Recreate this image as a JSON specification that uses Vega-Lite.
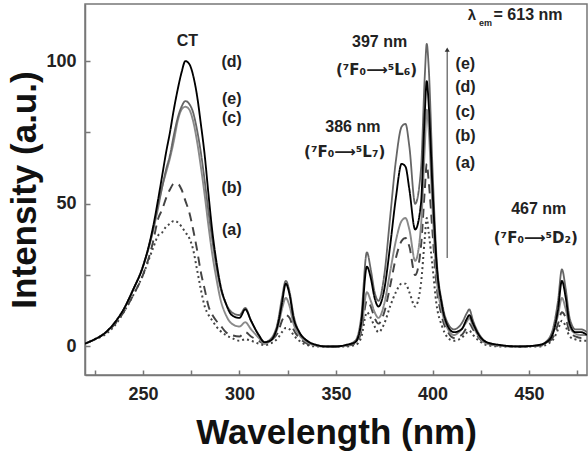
{
  "$schema": "https://vega.github.io/schema/vega-lite/v6.json",
  "width": 502,
  "height": 371,
  "autosize": {"type": "none"},
  "padding": {"left": 85, "top": 4, "right": 1, "bottom": 82},
  "background": "white",
  "config": {
    "view": {"stroke": "#777", "strokeWidth": 1.5},
    "font": "Liberation Sans",
    "axis": {
      "grid": false,
      "domainColor": "#777",
      "domainWidth": 1.5,
      "tickColor": "#777",
      "tickWidth": 1.5,
      "tickSize": -5,
      "labelFont": "Liberation Sans",
      "labelFontSize": 18,
      "labelFontWeight": "bold",
      "labelColor": "#222",
      "titleFont": "Liberation Sans",
      "titleFontSize": 35,
      "titleFontWeight": "bold",
      "titleColor": "#111"
    }
  },
  "datasets": {
    "spectra": [
      {"x": 220, "a": 1, "b": 1, "c": 1, "d": 1, "e": 1},
      {"x": 225, "a": 2.5, "b": 2.5, "c": 2.5, "d": 2.5, "e": 2.5},
      {"x": 230, "a": 4, "b": 4.5, "c": 4.5, "d": 4.5, "e": 4.5},
      {"x": 235, "a": 7, "b": 7.5, "c": 8, "d": 8, "e": 8},
      {"x": 240, "a": 12, "b": 12, "c": 13, "d": 13, "e": 13},
      {"x": 245, "a": 18, "b": 18, "c": 20, "d": 20, "e": 20},
      {"x": 250, "a": 25, "b": 25, "c": 28, "d": 28, "e": 28},
      {"x": 255, "a": 34, "b": 36, "c": 40, "d": 41, "e": 40},
      {"x": 258, "a": 39, "b": 45, "c": 49, "d": 52, "e": 50},
      {"x": 260, "a": 40, "b": 48, "c": 56, "d": 60, "e": 56},
      {"x": 262, "a": 42, "b": 52, "c": 61, "d": 68, "e": 62},
      {"x": 264, "a": 43, "b": 55, "c": 66, "d": 75, "e": 67},
      {"x": 266, "a": 44, "b": 57, "c": 72, "d": 83, "e": 74},
      {"x": 268, "a": 43.5, "b": 57, "c": 79, "d": 90, "e": 80},
      {"x": 270, "a": 42, "b": 55, "c": 83, "d": 96, "e": 84},
      {"x": 272, "a": 40, "b": 51, "c": 84, "d": 100, "e": 86},
      {"x": 274, "a": 38, "b": 47, "c": 83, "d": 99, "e": 85},
      {"x": 276, "a": 34, "b": 41, "c": 79, "d": 95, "e": 82},
      {"x": 278, "a": 27, "b": 34, "c": 72, "d": 88, "e": 76},
      {"x": 280, "a": 20, "b": 26, "c": 63, "d": 78, "e": 68},
      {"x": 282, "a": 14, "b": 20, "c": 53, "d": 67, "e": 58},
      {"x": 284, "a": 11, "b": 14, "c": 42, "d": 53, "e": 47},
      {"x": 286, "a": 9, "b": 11, "c": 32, "d": 40, "e": 37},
      {"x": 288, "a": 7, "b": 9, "c": 24, "d": 30, "e": 28},
      {"x": 290, "a": 5.5, "b": 7.5, "c": 17, "d": 22, "e": 21},
      {"x": 293, "a": 4, "b": 5, "c": 11, "d": 15, "e": 15},
      {"x": 296, "a": 3, "b": 4, "c": 8, "d": 11, "e": 12},
      {"x": 300, "a": 2, "b": 3.5, "c": 7, "d": 10, "e": 11},
      {"x": 303, "a": 2.5, "b": 5, "c": 8.5, "d": 13, "e": 13.5},
      {"x": 306, "a": 2, "b": 3.5, "c": 6, "d": 9, "e": 9},
      {"x": 310, "a": 1, "b": 2, "c": 3, "d": 4, "e": 4},
      {"x": 313, "a": 0.5, "b": 1, "c": 1, "d": 1.5, "e": 1.5},
      {"x": 316, "a": 1, "b": 2, "c": 2, "d": 2, "e": 2.5},
      {"x": 320, "a": 3, "b": 5, "c": 7, "d": 8, "e": 9},
      {"x": 322, "a": 5, "b": 9, "c": 13, "d": 15, "e": 17},
      {"x": 324, "a": 6.5, "b": 11, "c": 17, "d": 22, "e": 23},
      {"x": 326, "a": 6, "b": 10, "c": 14, "d": 18, "e": 19},
      {"x": 328, "a": 4, "b": 6, "c": 8, "d": 10, "e": 11},
      {"x": 331, "a": 2, "b": 3, "c": 4, "d": 5, "e": 5},
      {"x": 335, "a": 0.5, "b": 1, "c": 1.5, "d": 2, "e": 2},
      {"x": 340, "a": 0, "b": 0.2, "c": 0.3, "d": 0.5, "e": 0.5},
      {"x": 345, "a": 0, "b": 0, "c": 0, "d": 0, "e": 0},
      {"x": 350, "a": 0, "b": 0, "c": 0, "d": 0, "e": 0},
      {"x": 355, "a": 0, "b": 0.2, "c": 0.3, "d": 0.5, "e": 0.5},
      {"x": 360, "a": 0.5, "b": 1, "c": 1.5, "d": 1.5, "e": 2},
      {"x": 363, "a": 3, "b": 5, "c": 6, "d": 8, "e": 10},
      {"x": 366, "a": 12, "b": 16, "c": 19, "d": 28, "e": 33},
      {"x": 368, "a": 10, "b": 14, "c": 16, "d": 24, "e": 27},
      {"x": 370, "a": 7, "b": 10, "c": 12, "d": 17, "e": 19},
      {"x": 372, "a": 5, "b": 8, "c": 10, "d": 14, "e": 16},
      {"x": 375, "a": 8, "b": 12, "c": 15, "d": 20, "e": 25},
      {"x": 378, "a": 14, "b": 21, "c": 26, "d": 35, "e": 45},
      {"x": 381, "a": 19, "b": 31, "c": 37, "d": 52, "e": 65},
      {"x": 384, "a": 22, "b": 37, "c": 44, "d": 64, "e": 77},
      {"x": 386, "a": 22, "b": 38, "c": 45, "d": 63, "e": 78},
      {"x": 388, "a": 19, "b": 35, "c": 41, "d": 55, "e": 70},
      {"x": 391, "a": 14, "b": 25, "c": 30, "d": 41, "e": 50},
      {"x": 394, "a": 22, "b": 35, "c": 42, "d": 50, "e": 62},
      {"x": 396, "a": 38, "b": 55, "c": 70, "d": 82, "e": 95},
      {"x": 397, "a": 45, "b": 64, "c": 83, "d": 93, "e": 106},
      {"x": 398, "a": 40, "b": 58, "c": 76, "d": 85, "e": 98},
      {"x": 400, "a": 28, "b": 40, "c": 48, "d": 55, "e": 62},
      {"x": 402, "a": 15, "b": 22, "c": 25, "d": 30, "e": 32},
      {"x": 405, "a": 7, "b": 10, "c": 12, "d": 14, "e": 15},
      {"x": 408, "a": 3, "b": 5, "c": 6, "d": 7, "e": 8},
      {"x": 411, "a": 2, "b": 3, "c": 4, "d": 5, "e": 6},
      {"x": 415, "a": 3, "b": 4, "c": 6, "d": 6, "e": 8},
      {"x": 418, "a": 5, "b": 7, "c": 9, "d": 10, "e": 12},
      {"x": 419, "a": 5.5, "b": 8, "c": 10, "d": 11, "e": 13},
      {"x": 421, "a": 4, "b": 6, "c": 7, "d": 8, "e": 9},
      {"x": 424, "a": 2, "b": 3, "c": 3.5, "d": 4, "e": 4.5},
      {"x": 428, "a": 0.5, "b": 1, "c": 1, "d": 1.5, "e": 1.5},
      {"x": 435, "a": 0, "b": 0.2, "c": 0.3, "d": 0.5, "e": 0.5},
      {"x": 445, "a": 0, "b": 0, "c": 0, "d": 0, "e": 0},
      {"x": 455, "a": 0, "b": 0.2, "c": 0.3, "d": 0.5, "e": 0.5},
      {"x": 460, "a": 1, "b": 1.5, "c": 2, "d": 2, "e": 2.5},
      {"x": 463, "a": 3, "b": 4, "c": 6, "d": 6, "e": 8},
      {"x": 465, "a": 6, "b": 8, "c": 11, "d": 13, "e": 16},
      {"x": 467, "a": 9, "b": 12, "c": 17, "d": 23, "e": 27},
      {"x": 469, "a": 7, "b": 10, "c": 13, "d": 17, "e": 20},
      {"x": 471, "a": 3.5, "b": 5, "c": 7, "d": 8, "e": 10},
      {"x": 474, "a": 2.5, "b": 3.5, "c": 4.5, "d": 5, "e": 6},
      {"x": 477, "a": 2, "b": 3, "c": 4, "d": 5, "e": 6},
      {"x": 480, "a": 2, "b": 3, "c": 4, "d": 4, "e": 5}
    ],
    "labels": [
      {"x": 273, "y": 107, "t": "CT"},
      {"x": 296, "y": 99.6, "t": "(d)"},
      {"x": 296, "y": 86.6, "t": "(e)"},
      {"x": 296, "y": 80, "t": "(c)"},
      {"x": 296, "y": 55.6, "t": "(b)"},
      {"x": 296, "y": 40.8, "t": "(a)"},
      {"x": 417, "y": 99, "t": "(e)"},
      {"x": 417, "y": 90.8, "t": "(d)"},
      {"x": 417, "y": 82, "t": "(c)"},
      {"x": 417, "y": 73.6, "t": "(b)"},
      {"x": 417, "y": 64.4, "t": "(a)"},
      {"x": 372.6, "y": 106.7, "t": "397 nm"},
      {"x": 358.7, "y": 77, "t": "386 nm"},
      {"x": 455, "y": 48, "t": "467 nm"}
    ],
    "transitions": [
      {"x": 371, "y": 97, "t": "(⁷F₀⟶⁵L₆)"},
      {"x": 354.5, "y": 68, "t": "(⁷F₀⟶⁵L₇)"},
      {"x": 453.5, "y": 38, "t": "(⁷F₀⟶⁵D₂)"}
    ],
    "lambda": [
      {"x": 422.6, "y": 116, "t": "λ"}
    ],
    "lambdaSub": [
      {"x": 427.4, "y": 113.3, "t": "em"}
    ],
    "lambdaRest": [
      {"x": 431.6, "y": 116, "t": "= 613 nm"}
    ],
    "arrow": [
      {"x": 407.6, "y": 31, "y2": 104}
    ]
  },
  "layer": [
    {
      "data": {"name": "spectra"},
      "transform": [{"fold": ["a", "b", "c", "e", "d"], "as": ["curve", "value"]}],
      "mark": {"type": "line", "interpolate": "monotone", "clip": true},
      "encoding": {
        "x": {
          "field": "x", "type": "quantitative",
          "scale": {"domain": [220, 480], "nice": false, "zero": false},
          "axis": {
            "values": [225, 250, 275, 300, 325, 350, 375, 400, 425, 450, 475],
            "labelExpr": "datum.value % 50 == 0 ? datum.label : ''",
            "title": "Wavelength (nm)",
            "labelPadding": 15,
            "titlePadding": 12
          }
        },
        "y": {
          "field": "value", "type": "quantitative",
          "scale": {"domain": [-10, 120], "nice": false, "zero": false},
          "axis": {
            "values": [0, 25, 50, 75, 100],
            "labelExpr": "datum.value % 50 == 0 ? datum.label : ''",
            "title": "Intensity (a.u.)",
            "labelPadding": 14,
            "titlePadding": 3
          }
        },
        "color": {
          "field": "curve", "type": "nominal",
          "scale": {"domain": ["a", "b", "c", "d", "e"], "range": ["#444", "#444", "#8a8a8a", "#000000", "#666666"]},
          "legend": null
        },
        "strokeDash": {
          "field": "curve", "type": "nominal",
          "scale": {"domain": ["a", "b", "c", "d", "e"], "range": [[2, 3], [9, 6], [1, 0], [1, 0], [1, 0]]},
          "legend": null
        },
        "strokeWidth": {
          "field": "curve", "type": "nominal",
          "scale": {"domain": ["a", "b", "c", "d", "e"], "range": [2, 1.8, 2, 2, 2]},
          "legend": null
        },
        "order": {"field": "curve"}
      }
    },
    {
      "data": {"name": "arrow"},
      "mark": {"type": "rule", "color": "#666", "strokeWidth": 1.3},
      "encoding": {
        "x": {"field": "x", "type": "quantitative"},
        "y": {"field": "y", "type": "quantitative"},
        "y2": {"field": "y2"}
      }
    },
    {
      "data": {"name": "arrow"},
      "mark": {"type": "point", "shape": "triangle-up", "filled": true, "color": "#333", "size": 25, "opacity": 1},
      "encoding": {
        "x": {"field": "x", "type": "quantitative"},
        "y": {"field": "y2", "type": "quantitative"}
      }
    },
    {
      "data": {"name": "labels"},
      "mark": {"type": "text", "font": "Liberation Sans", "fontSize": 16, "fontWeight": "bold", "color": "#222", "align": "center", "baseline": "middle"},
      "encoding": {
        "x": {"field": "x", "type": "quantitative"},
        "y": {"field": "y", "type": "quantitative"},
        "text": {"field": "t"}
      }
    },
    {
      "data": {"name": "transitions"},
      "mark": {"type": "text", "font": "DejaVu Sans", "fontSize": 15, "fontWeight": "bold", "color": "#222", "align": "center", "baseline": "middle"},
      "encoding": {
        "x": {"field": "x", "type": "quantitative"},
        "y": {"field": "y", "type": "quantitative"},
        "text": {"field": "t"}
      }
    },
    {
      "data": {"name": "lambda"},
      "mark": {"type": "text", "font": "Liberation Sans", "fontSize": 15, "fontWeight": "bold", "color": "#222", "align": "right", "baseline": "middle"},
      "encoding": {
        "x": {"field": "x", "type": "quantitative"},
        "y": {"field": "y", "type": "quantitative"},
        "text": {"field": "t"}
      }
    },
    {
      "data": {"name": "lambdaSub"},
      "mark": {"type": "text", "font": "Liberation Sans", "fontSize": 9, "fontWeight": "bold", "color": "#222", "align": "center", "baseline": "middle"},
      "encoding": {
        "x": {"field": "x", "type": "quantitative"},
        "y": {"field": "y", "type": "quantitative"},
        "text": {"field": "t"}
      }
    },
    {
      "data": {"name": "lambdaRest"},
      "mark": {"type": "text", "font": "Liberation Sans", "fontSize": 16, "fontWeight": "bold", "color": "#222", "align": "left", "baseline": "middle"},
      "encoding": {
        "x": {"field": "x", "type": "quantitative"},
        "y": {"field": "y", "type": "quantitative"},
        "text": {"field": "t"}
      }
    }
  ]
}
